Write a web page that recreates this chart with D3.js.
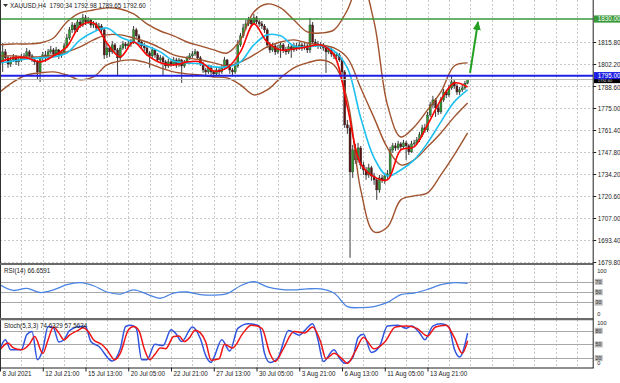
<!DOCTYPE html>
<html>
<head>
<meta charset="utf-8">
<script src="https://cdn.jsdelivr.net/npm/d3@7"></script>
<style>
  html, body { margin: 0; padding: 0; background: #fff; }
  #chart svg { display: block; }
  text { font-family: "Liberation Sans", Arial, sans-serif; }
</style>
</head>
<body>
<div id="chart"></div>
<script>
// ---------- Data ----------
const titleText = "XAUUSD,H4  1790.34 1792.98 1789.65 1792.60";

const opens = [
1806.0,1803.5,1809.7,1806.0,1802.2,1804.7,1806.6,1803.5,
1804.7,1806.0,1807.2,1809.7,1807.2,1804.7,1803.5,1797.3,
1806.0,1807.8,1806.0,1809.7,1810.9,1808.4,1810.9,1807.8,
1809.7,1813.4,1818.3,1823.3,1826.3,1823.3,1828.2,1826.3,
1830.7,1828.2,1829.4,1826.3,1827.0,1824.5,1825.7,1823.3,
1807.8,1812.1,1809.7,1814.0,1810.9,1806.0,1812.1,1814.6,
1813.4,1814.6,1815.8,1823.3,1819.6,1815.8,1813.4,1812.1,
1809.0,1807.2,1810.9,1807.8,1804.7,1806.0,1803.5,1801.0,
1803.5,1802.2,1804.7,1801.6,1804.7,1801.0,1803.5,1806.0,
1807.2,1808.4,1809.7,1806.0,1802.2,1798.5,1797.3,1799.8,
1797.3,1796.1,1798.5,1797.3,1799.8,1804.7,1801.0,1798.5,
1797.3,1801.0,1814.0,1819.6,1824.5,1827.0,1829.4,1827.0,
1830.7,1828.2,1827.0,1825.7,1823.3,1814.0,1810.9,1813.4,
1809.7,1812.1,1814.0,1810.9,1809.7,1812.8,1810.9,1813.4,
1812.1,1814.0,1812.1,1813.4,1810.9,1826.3,1815.8,1814.6,
1813.4,1814.0,1812.1,1809.7,1810.9,1808.4,1807.2,1807.8,
1804.7,1797.3,1764.6,1762.7,1735.5,1749.1,1742.9,1750.3,
1739.8,1736.7,1733.6,1738.0,1733.0,1730.6,1724.4,1731.8,
1730.6,1733.0,1734.3,1749.1,1751.6,1750.3,1752.8,1751.0,
1753.4,1751.6,1747.9,1752.8,1753.4,1755.3,1758.4,1762.7,
1761.5,1770.7,1776.9,1780.0,1775.1,1772.6,1780.0,1784.9,
1783.1,1787.4,1791.1,1788.6,1784.9,1786.2,1787.4,1790.34];

const highs = [
1807.8,1815.2,1811.5,1807.2,1806.6,1808.4,1807.8,1806.0,
1808.4,1809.0,1812.1,1810.9,1808.4,1806.0,1804.7,1807.2,
1809.7,1810.3,1811.5,1813.4,1812.1,1812.8,1811.5,1810.9,
1815.2,1820.8,1825.1,1828.2,1827.6,1830.1,1830.7,1833.2,
1832.5,1831.3,1830.1,1828.8,1828.2,1827.6,1826.9,1824.5,
1815.2,1813.4,1816.5,1815.2,1812.1,1814.0,1816.5,1815.8,
1816.5,1817.7,1825.7,1824.5,1820.8,1817.1,1815.2,1813.4,
1810.3,1812.8,1811.5,1809.0,1807.8,1807.2,1804.7,1805.3,
1805.3,1806.6,1806.0,1806.0,1805.3,1804.7,1807.2,1809.0,
1810.3,1811.5,1810.3,1807.2,1803.5,1799.8,1801.0,1801.6,
1798.5,1800.4,1799.8,1801.6,1806.6,1805.3,1802.2,1799.8,
1803.5,1817.1,1821.4,1827.0,1829.4,1831.3,1830.7,1833.2,
1831.9,1829.4,1828.8,1826.9,1824.5,1815.8,1815.2,1814.6,
1814.0,1815.8,1815.2,1812.8,1814.6,1814.0,1815.2,1815.2,
1815.8,1815.2,1815.2,1814.6,1830.7,1828.2,1817.7,1816.5,
1815.8,1815.2,1813.4,1812.8,1812.1,1809.7,1809.7,1809.0,
1806.0,1798.5,1767.6,1764.6,1752.2,1752.8,1753.4,1751.6,
1741.7,1738.6,1740.5,1739.2,1734.9,1731.8,1733.6,1733.6,
1734.9,1736.7,1751.0,1753.4,1753.4,1754.7,1754.0,1755.3,
1754.7,1752.8,1754.7,1755.3,1757.1,1760.2,1764.6,1765.2,
1772.6,1778.8,1782.5,1781.2,1776.9,1781.9,1786.8,1786.2,
1789.3,1794.8,1792.4,1789.9,1788.0,1789.3,1791.7,1792.98];

const lows = [
1801.6,1797.3,1804.1,1799.8,1800.4,1803.5,1801.6,1801.0,
1803.5,1804.7,1806.0,1805.3,1803.5,1801.6,1792.4,1791.1,
1804.1,1803.5,1804.7,1808.4,1806.6,1807.2,1805.3,1806.0,
1808.4,1812.1,1817.1,1821.4,1821.4,1822.0,1824.5,1825.1,
1826.3,1826.9,1824.5,1824.5,1822.6,1823.3,1821.4,1805.3,
1806.0,1806.6,1808.4,1808.4,1795.4,1804.7,1810.9,1811.5,
1812.1,1812.8,1814.6,1818.3,1814.0,1811.5,1810.3,1807.2,
1799.8,1806.0,1806.0,1803.5,1802.9,1795.4,1799.2,1799.8,
1800.4,1801.0,1799.8,1800.4,1790.5,1799.8,1802.2,1804.7,
1806.0,1807.2,1804.7,1801.0,1796.7,1795.4,1796.1,1795.4,
1794.2,1794.8,1795.4,1796.1,1798.5,1799.8,1796.1,1795.4,
1796.1,1799.8,1812.8,1818.3,1823.3,1825.7,1825.1,1826.3,
1826.9,1825.1,1823.9,1821.4,1812.1,1809.0,1809.7,1807.8,
1808.4,1806.0,1809.0,1807.8,1808.4,1806.0,1809.7,1810.3,
1810.9,1810.3,1810.9,1809.0,1809.0,1814.6,1812.8,1811.5,
1811.5,1810.3,1796.7,1808.4,1806.6,1805.3,1805.3,1803.5,
1795.4,1762.7,1759.0,1682.4,1731.8,1740.5,1741.1,1737.3,
1733.6,1730.6,1731.8,1730.0,1727.5,1718.2,1722.6,1728.7,
1728.1,1731.2,1733.0,1747.3,1748.5,1749.1,1749.1,1749.7,
1742.9,1746.0,1747.3,1751.6,1752.2,1754.0,1757.1,1759.6,
1760.2,1769.5,1775.1,1769.5,1770.7,1771.3,1778.8,1781.2,
1781.9,1786.2,1786.8,1783.1,1783.1,1784.9,1786.2,1789.65];

const closes = [
1803.5,1809.7,1806.0,1802.2,1804.7,1806.6,1803.5,1804.7,
1806.0,1807.2,1809.7,1807.2,1804.7,1803.5,1797.3,1806.0,
1807.8,1806.0,1809.7,1810.9,1808.4,1810.9,1807.8,1809.7,
1813.4,1818.3,1823.3,1826.3,1823.3,1828.2,1826.3,1830.7,
1828.2,1829.4,1826.3,1827.0,1824.5,1825.7,1823.3,1807.8,
1812.1,1809.7,1814.0,1810.9,1806.0,1812.1,1814.6,1813.4,
1814.6,1815.8,1823.3,1819.6,1815.8,1813.4,1812.1,1809.0,
1807.2,1810.9,1807.8,1804.7,1806.0,1803.5,1801.0,1803.5,
1802.2,1804.7,1801.6,1804.7,1801.0,1803.5,1806.0,1807.2,
1808.4,1809.7,1806.0,1802.2,1798.5,1797.3,1799.8,1797.3,
1796.1,1798.5,1797.3,1799.8,1804.7,1801.0,1798.5,1797.3,
1801.0,1814.0,1819.6,1824.5,1827.0,1829.4,1827.0,1830.7,
1828.2,1827.0,1825.7,1823.3,1814.0,1810.9,1813.4,1809.7,
1812.1,1814.0,1810.9,1809.7,1812.8,1810.9,1813.4,1812.1,
1814.0,1812.1,1813.4,1810.9,1826.3,1815.8,1814.6,1813.4,
1814.0,1812.1,1809.7,1810.9,1808.4,1807.2,1807.8,1804.7,
1797.3,1764.6,1762.7,1735.5,1749.1,1742.9,1750.3,1739.8,
1736.7,1733.6,1738.0,1733.0,1730.6,1724.4,1731.8,1730.6,
1733.0,1734.3,1749.1,1751.6,1750.3,1752.8,1751.0,1753.4,
1751.6,1747.9,1752.8,1753.4,1755.3,1758.4,1762.7,1761.5,
1770.7,1776.9,1780.0,1775.1,1772.6,1780.0,1784.9,1783.1,
1787.4,1791.1,1788.6,1784.9,1786.2,1787.4,1790.3,1792.6];

// indicator readings, one value every SAMPLE bars (bar 0, 5, 10 ... 175)
const SAMPLE = 5;
const maFast = [1803.5,1806.0,1806.0,1803.5,1807.2,1812.8,1825.7,1827.6,1815.2,1806.6,1815.8,1807.8,
  1802.9,1801.6,1803.5,1803.5,1797.9,1799.8,1809.7,1827.0,1815.8,1810.9,1811.5,1812.8,
  1814.0,1807.8,1775.7,1740.4,1732.4,1730.6,1749.1,1751.0,1764.6,1780.0,1790.5,1788.0];
const maSlow = [1802.9,1804.1,1805.3,1806.0,1806.6,1809.0,1817.1,1822.0,1824.5,1818.9,1815.8,1813.4,
  1809.7,1804.1,1802.9,1802.2,1800.4,1800.4,1803.5,1814.0,1820.2,1819.6,1813.4,1812.8,
  1813.4,1810.3,1799.8,1768.9,1744.2,1733.0,1736.7,1742.9,1753.4,1766.4,1778.8,1786.2];
const bbUpper = [1814.0,1814.6,1814.6,1815.2,1818.3,1828.2,1833.8,1835.6,1836.9,1836.2,1833.2,1827.0,
  1822.6,1819.6,1815.8,1813.4,1810.9,1809.0,1817.1,1834.4,1839.3,1836.9,1829.4,1822.0,
  1821.4,1823.3,1835.6,1854.2,1828.2,1776.9,1757.1,1763.3,1773.8,1784.9,1801.0,1802.9];
const bbMiddle = [1807.2,1807.2,1806.6,1806.6,1807.8,1809.7,1812.8,1817.1,1820.2,1820.2,1818.3,1815.8,
  1812.1,1807.8,1806.0,1804.7,1802.9,1801.0,1803.5,1807.8,1812.8,1815.8,1817.1,1815.2,
  1814.0,1812.1,1806.0,1787.4,1768.9,1750.3,1739.8,1742.9,1751.0,1759.6,1769.5,1778.1];
const bbLower = [1784.9,1791.1,1795.4,1796.7,1797.3,1795.4,1792.4,1794.2,1801.6,1804.1,1804.7,1802.9,
  1799.8,1797.3,1796.1,1795.4,1794.2,1793.6,1789.3,1783.1,1786.2,1793.6,1799.8,1802.9,
  1804.7,1801.6,1780.0,1724.4,1698.4,1701.5,1718.2,1720.7,1722.5,1733.6,1746.0,1759.6];
const rsi = [64,53,57,49,54,64,68,62,50,46,54,46,38,48,50,45,44,47,62,70,60,55,54,56,
  56,48,22,20,22,30,45,48,55,64,68,66.66];

// stochastic turning points: [bar, value]
const stochMain = [[0,40],[2,60],[4,38],[8,38],[10,71],[12,78],[14,16],[16,38],[18,89],[20,86],[22,55],
  [24,60],[26,80],[30,89],[32,89],[34,56],[37,45],[42,13],[45,40],[47,89],[49,92],[51,85],[53,16],
  [55,16],[58,50],[61,47],[64,82],[66,72],[68,56],[72,88],[75,62],[77,25],[79,10],[80,20],[83,60],
  [86,35],[89,85],[93,95],[97,90],[99,30],[101,10],[104,20],[108,80],[112,70],[114,80],[117,95],
  [119,60],[121,12],[125,38],[127,20],[129,8],[132,20],[134,65],[136,72],[139,32],[142,45],[145,90],
  [149,92],[152,85],[154,90],[157,75],[159,60],[162,90],[165,95],[168,88],[170,40],[172,22],[175,74.63]];
const stochSignal = [[0,38],[3,53],[5,42],[8,38],[11,50],[13,67],[16,30],[18,60],[20,88],[22,75],
  [24,60],[26,70],[29,80],[31,86],[33,78],[35,60],[38,50],[40,38],[43,16],[45,30],[48,81],[50,89],
  [52,80],[54,40],[56,16],[58,28],[60,42],[62,40],[65,67],[67,68],[69,56],[71,65],[73,81],[75,75],
  [77,55],[79,15],[82,18],[84,50],[87,42],[91,75],[94,92],[98,85],[101,30],[103,12],[106,40],
  [110,78],[114,75],[117,88],[120,55],[122,18],[125,30],[128,18],[130,8],[133,35],[136,65],[140,40],
  [144,55],[148,88],[152,90],[156,85],[160,68],[163,88],[167,92],[170,65],[173,30],[175,57.56]];

const dateLabels = ["8 Jul 2021","12 Jul 21:00","15 Jul 13:00","20 Jul 05:00","22 Jul 21:00",
  "27 Jul 13:00","30 Jul 05:00","3 Aug 21:00","6 Aug 13:00","11 Aug 05:00","13 Aug 21:00"];
const dateEvery = 16;
const gridEvery = 8;
const priceTicks = [1815.80,1802.20,1788.60,1775.00,1761.40,1747.80,1734.20,1720.60,1707.00,1693.40,1679.80];

const resistance = 1830.00;
const support = 1795.00;
const lastBid = 1792.60;
const arrowFrom = [175.9, 1796.7];
const arrowTo = [178.9, 1828.2];

const rsiLevels = [70, 50, 30];
const stochLevels = [80, 50, 20];

// ---------- Layout ----------
const W = 620, H = 383;
const AXIS_X = 593.2;
const FONT = 6.3;

const svg = d3.select("#chart").append("svg")
  .attr("width", W).attr("height", H);
svg.append("rect").attr("width", W).attr("height", H).attr("fill", "#fff");

const x = d3.scaleLinear().domain([0, 222]).range([0, AXIS_X]);
const y = d3.scaleLinear().domain([1679.8, 1802.2]).range([262, 64]);
const yRsi = d3.scaleLinear().domain([0, 100]).range([318, 266]);
const ySto = d3.scaleLinear().domain([0, 100]).range([367, 321.5]);

const defs = svg.append("defs");
function clip(id, top, bottom) {
  defs.append("clipPath").attr("id", id).append("rect")
    .attr("x", 0).attr("y", top).attr("width", AXIS_X).attr("height", bottom - top);
  return `url(#${id})`;
}
const clipMain = clip("cMain", 0, 263);
const clipRsi = clip("cRsi", 265, 319);
const clipSto = clip("cSto", 320, 368);

// ---------- Grid ----------
const grid = svg.append("g").attr("stroke", "#c9c9c9").attr("stroke-width", 1)
  .attr("stroke-dasharray", "2,2");
grid.selectAll("line.v").data(d3.range(0, 222, gridEvery)).join("line")
  .attr("x1", d => Math.round(x(d)) + 0.5).attr("x2", d => Math.round(x(d)) + 0.5)
  .attr("y1", 0).attr("y2", 367);
grid.selectAll("line.h").data(priceTicks).join("line")
  .attr("x1", 0).attr("x2", AXIS_X)
  .attr("y1", d => Math.round(y(d)) + 0.5).attr("y2", d => Math.round(y(d)) + 0.5);

// ---------- Main panel ----------
const main = svg.append("g").attr("clip-path", clipMain);
const bars = closes.map((c, i) => ({ i, o: opens[i], h: highs[i], l: lows[i], c }));

main.append("g").selectAll("line").data(bars).join("line")
  .attr("x1", d => x(d.i)).attr("x2", d => x(d.i))
  .attr("y1", d => y(d.h)).attr("y2", d => y(d.l))
  .attr("stroke", "#3c3c3c").attr("stroke-width", 1);

main.append("g").selectAll("rect").data(bars).join("rect")
  .attr("x", d => x(d.i) - 1).attr("width", 2)
  .attr("y", d => y(Math.max(d.o, d.c)))
  .attr("height", d => Math.max(1, Math.abs(y(d.o) - y(d.c))))
  .attr("fill", d => d.c >= d.o ? "#2f9a2f" : "#5e1212")
  .attr("stroke", "#2a2a2a").attr("stroke-width", 0.4);

const sampled = arr => arr.map((v, k) => [k * SAMPLE, v]);
const priceLine = d3.line().x(d => x(d[0])).y(d => y(d[1])).curve(d3.curveCatmullRom.alpha(0.5));

[bbUpper, bbMiddle, bbLower].forEach(s => {
  main.append("path").datum(sampled(s)).attr("d", priceLine)
    .attr("fill", "none").attr("stroke", "#a0522d").attr("stroke-width", 1.4);
});
main.append("path").datum(sampled(maSlow)).attr("d", priceLine)
  .attr("fill", "none").attr("stroke", "#1ec0f0").attr("stroke-width", 1.6);
main.append("path").datum(sampled(maFast)).attr("d", priceLine)
  .attr("fill", "none").attr("stroke", "#ff0000").attr("stroke-width", 1.6);

// horizontal levels
main.append("line").attr("x1", 0).attr("x2", AXIS_X)
  .attr("y1", y(lastBid)).attr("y2", y(lastBid)).attr("stroke", "#b8b8b8").attr("stroke-width", 1);
main.append("line").attr("x1", 0).attr("x2", AXIS_X)
  .attr("y1", y(support)).attr("y2", y(support)).attr("stroke", "#1f1fe6").attr("stroke-width", 2);
main.append("line").attr("x1", 0).attr("x2", AXIS_X)
  .attr("y1", y(resistance)).attr("y2", y(resistance)).attr("stroke", "#3a9a3a").attr("stroke-width", 1.5);

// green arrow
defs.append("marker").attr("id", "arr").attr("viewBox", "0 0 10 10")
  .attr("refX", 9).attr("refY", 5).attr("markerWidth", 9).attr("markerHeight", 9)
  .attr("markerUnits", "userSpaceOnUse").attr("orient", "auto")
  .append("path").attr("d", "M0,0.5 L10,5 L0,9.5 z").attr("fill", "#22a022");
svg.append("line")
  .attr("x1", x(arrowFrom[0])).attr("y1", y(arrowFrom[1]))
  .attr("x2", x(arrowTo[0])).attr("y2", y(arrowTo[1]))
  .attr("stroke", "#22a022").attr("stroke-width", 2).attr("marker-end", "url(#arr)");

// title
svg.append("path").attr("d", "M3,4 L8,4 L5.5,7 z").attr("fill", "#333");
svg.append("text").attr("x", 10).attr("y", 8).attr("font-size", FONT).attr("fill", "#222")
  .attr("xml:space", "preserve").text(titleText);

// ---------- RSI panel ----------
const rsiG = svg.append("g").attr("clip-path", clipRsi);
rsiG.selectAll("line").data(rsiLevels).join("line")
  .attr("x1", 0).attr("x2", AXIS_X)
  .attr("y1", d => Math.round(yRsi(d)) + 0.5).attr("y2", d => Math.round(yRsi(d)) + 0.5)
  .attr("stroke", "#a8a8a8").attr("stroke-width", 1);
rsiG.append("path").datum(sampled(rsi))
  .attr("d", d3.line().x(d => x(d[0])).y(d => yRsi(d[1])).curve(d3.curveCatmullRom.alpha(0.5)))
  .attr("fill", "none").attr("stroke", "#4a84e4").attr("stroke-width", 1.3);
svg.append("text").attr("x", 4).attr("y", 273).attr("font-size", FONT).attr("fill", "#222")
  .text("RSI(14) 66.6591");

// ---------- Stochastic panel ----------
const stoG = svg.append("g").attr("clip-path", clipSto);
stoG.selectAll("line").data(stochLevels).join("line")
  .attr("x1", 0).attr("x2", AXIS_X)
  .attr("y1", d => Math.round(ySto(d)) + 0.5).attr("y2", d => Math.round(ySto(d)) + 0.5)
  .attr("stroke", "#a8a8a8").attr("stroke-width", 1);
const stoLine = d3.line().x(d => x(d[0])).y(d => ySto(d[1])).curve(d3.curveMonotoneX);
stoG.append("path").datum(stochMain).attr("d", stoLine)
  .attr("fill", "none").attr("stroke", "#3056e0").attr("stroke-width", 1.5);
stoG.append("path").datum(stochSignal).attr("d", stoLine)
  .attr("fill", "none").attr("stroke", "#f01515").attr("stroke-width", 1.5);
svg.append("text").attr("x", 4).attr("y", 327.5).attr("font-size", FONT).attr("fill", "#222")
  .text("Stoch(5,3,3) 74.6329 57.5634");

// ---------- Frames ----------
const frame = svg.append("g");
frame.append("line").attr("x1", 0.5).attr("x2", 0.5).attr("y1", 0).attr("y2", 368)
  .attr("stroke", "#333");
frame.append("line").attr("x1", 0).attr("x2", AXIS_X).attr("y1", 264).attr("y2", 264)
  .attr("stroke", "#6a6a6a").attr("stroke-width", 2.2);
frame.append("line").attr("x1", 0).attr("x2", AXIS_X).attr("y1", 319.2).attr("y2", 319.2)
  .attr("stroke", "#6a6a6a").attr("stroke-width", 2.2);
frame.append("line").attr("x1", AXIS_X).attr("x2", AXIS_X).attr("y1", 0).attr("y2", 368)
  .attr("stroke", "#222");

// ---------- Axes ----------
const fmt = d3.format(".2f");
const yAxis = d3.axisRight(y).tickValues(priceTicks).tickSize(3).tickFormat(fmt);
svg.append("g").attr("transform", `translate(${AXIS_X},0)`).call(yAxis)
  .call(g => g.select(".domain").remove())
  .call(g => g.selectAll("line").attr("stroke", "#222"))
  .call(g => g.selectAll("text").attr("font-size", FONT).attr("x", 4.5).attr("fill", "#222")
    .attr("dy", d => d === 1788.60 ? "0.55em" : "0.32em"));

const xAxis = d3.axisBottom(x)
  .tickValues(dateLabels.map((_, k) => k * dateEvery))
  .tickFormat((d, k) => dateLabels[k])
  .tickSize(4).tickSizeOuter(0);
svg.append("g").attr("transform", "translate(0,367.5)").call(xAxis)
  .call(g => g.select(".domain").attr("stroke", "#222"))
  .call(g => g.selectAll("line").attr("stroke", "#222"))
  .call(g => g.selectAll("text").attr("font-size", FONT).attr("fill", "#222")
    .attr("text-anchor", "start").attr("x", 2).attr("y", 4.2));

// price tags on the right scale (bid tag sits under the support tag, as in the terminal)
const tagBid = y(lastBid);
svg.append("rect").attr("x", AXIS_X + 0.8).attr("y", tagBid - 1).attr("width", W - AXIS_X)
  .attr("height", 4.6).attr("fill", "#000");
svg.append("text").attr("x", AXIS_X + 4.5).attr("y", tagBid + 2.9).attr("font-size", 4.0)
  .attr("fill", "#ddd").text(fmt(lastBid));

function tag(val, fill) {
  const cy = y(val);
  svg.append("rect").attr("x", AXIS_X + 0.8).attr("y", cy - 3.6).attr("width", W - AXIS_X)
    .attr("height", 7.2).attr("fill", fill);
  svg.append("text").attr("x", AXIS_X + 4.5).attr("y", cy + 2.1).attr("font-size", FONT)
    .attr("fill", "#fff").text(fmt(val));
}
tag(support, "#1f1fe6");
tag(resistance, "#3a9a3a");

// oscillator scale labels
function oscLabels(scale, lv, top, bottom) {
  svg.append("text").attr("x", AXIS_X + 4).attr("y", top).attr("font-size", 5.6).attr("fill", "#222").text("100");
  svg.append("text").attr("x", AXIS_X + 4).attr("y", bottom).attr("font-size", 5.6).attr("fill", "#222").text("0");
  lv.forEach(v => {
    const cy = scale(v);
    svg.append("rect").attr("x", AXIS_X + 1.5).attr("y", cy - 2.8).attr("width", 8).attr("height", 6)
      .attr("fill", "#b9b9b9");
    svg.append("text").attr("x", AXIS_X + 2.3).attr("y", cy + 2).attr("font-size", 5.2)
      .attr("fill", "#333").text(v);
  });
}
oscLabels(yRsi, rsiLevels, 272.5, 315.5);
oscLabels(ySto, stochLevels, 325, 365);
</script>
</body>
</html>
